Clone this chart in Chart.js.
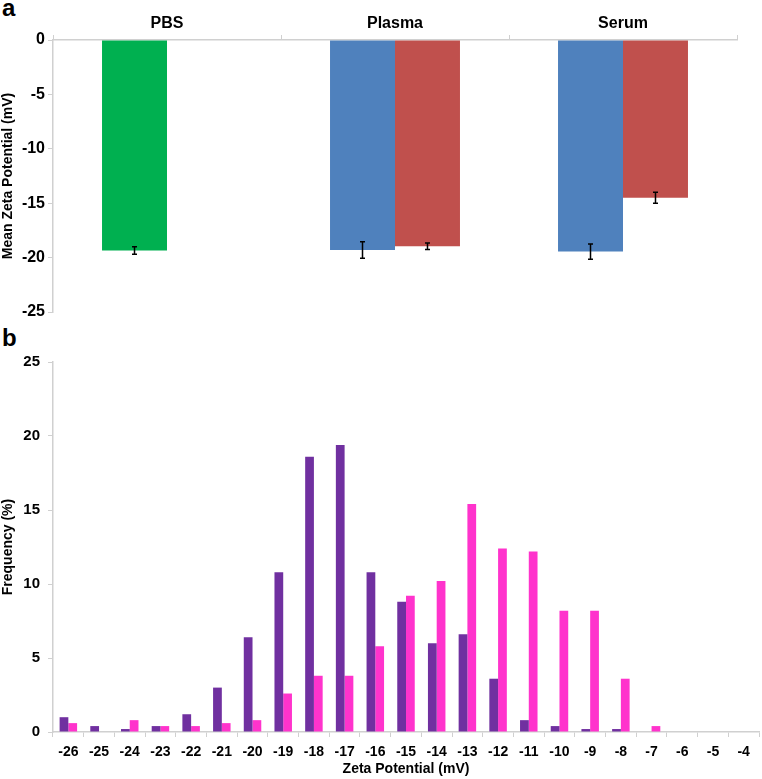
<!DOCTYPE html>
<html>
<head>
<meta charset="utf-8">
<script src="https://cdn.jsdelivr.net/npm/chart.js@4/dist/chart.umd.min.js"></script>
<style>
  body { margin: 0; background: #fff; width: 762px; height: 779px; position: relative; overflow: hidden; }
  .panel { position: absolute; left: 0; width: 762px; }
  .tag { position: absolute; left: 2px; font: bold 24px "Liberation Sans", Arial, sans-serif; color: #000; }
</style>
</head>
<body>
<div class="tag" style="top:-6px">a</div>
<div class="tag" style="top:324px">b</div>
<div class="panel" style="top:0;height:330px"><canvas id="meanChart"></canvas></div>
<div class="panel" style="top:330px;height:449px"><canvas id="freqChart"></canvas></div>
<script>
// panel a
const mediums = ["PBS", "Plasma", "Serum"];
const firstMeans = [-19.35, -19.3, -19.45];
const firstErrors = [0.35, 0.75, 0.7];
const secondMeans = [null, -18.95, -14.5];
const secondErrors = [null, 0.3, 0.5];

// panel b
const zetaBins = ["-26", "-25", "-24", "-23", "-22", "-21", "-20", "-19", "-18", "-17", "-16", "-15",
                  "-14", "-13", "-12", "-11", "-10", "-9", "-8", "-7", "-6", "-5", "-4"];
const purpleFreq = [1.0, 0.4, 0.2, 0.4, 1.2, 3.0, 6.4, 10.8, 18.6, 19.4, 10.8, 8.8,
                    6.0, 6.6, 3.6, 0.8, 0.4, 0.2, 0.2, 0, 0, 0, 0];
const pinkFreq = [0.6, 0, 0.8, 0.4, 0.4, 0.6, 0.8, 2.6, 3.8, 3.8, 5.8, 9.2,
                  10.2, 15.4, 12.4, 12.2, 8.2, 8.2, 3.6, 0.4, 0, 0, 0];

const FONT = "'Liberation Sans', Arial, sans-serif";
const AXIS = "#d0d0d0";

const errorBars = {
    id: "errorBars",
    afterDatasetsDraw(chart, args, opts) {
        const ctx = chart.ctx;
        const yScale = chart.scales.y;
        ctx.save();
        ctx.strokeStyle = "#000";
        ctx.lineWidth = 1.5;
        chart.data.datasets.forEach((ds, i) => {
            const meta = chart.getDatasetMeta(i);
            ds.errors.forEach((err, j) => {
                if (err == null || ds.data[j] == null) return;
                const x = meta.data[j].x;
                const top = yScale.getPixelForValue(ds.data[j] + err);
                const bottom = yScale.getPixelForValue(ds.data[j] - err);
                ctx.beginPath();
                ctx.moveTo(x, top); ctx.lineTo(x, bottom);
                ctx.moveTo(x - 2.5, top); ctx.lineTo(x + 2.5, top);
                ctx.moveTo(x - 2.5, bottom); ctx.lineTo(x + 2.5, bottom);
                ctx.stroke();
            });
        });
        ctx.restore();
    }
};

new Chart(document.getElementById("meanChart"), {
    type: "bar",
    data: {
        labels: mediums,
        datasets: [{
            data: firstMeans,
            errors: firstErrors,
            backgroundColor: ["#00b050", "#4f81bd", "#4f81bd"]
        }, {
            data: secondMeans,
            errors: secondErrors,
            backgroundColor: "#c0504d"
        }]
    },
    options: {
        responsive: true,
        maintainAspectRatio: false,
        animation: false,
        layout: { padding: { left: 0, top: 0, right: 25, bottom: 18 } },
        plugins: { legend: { display: false }, tooltip: { enabled: false } },
        datasets: { bar: { categoryPercentage: 0.57, barPercentage: 1.0 } },
        scales: {
            x: {
                position: "top",
                afterFit: (scale) => { scale.height = 40; },
                grid: { drawOnChartArea: false, color: AXIS, tickLength: 5, offset: true },
                border: { color: AXIS, width: 1.5 },
                ticks: { color: "#000", padding: 2, font: { family: FONT, size: 16, weight: "bold" } }
            },
            y: {
                min: -25, max: 0,
                afterFit: (scale) => { scale.width = 53; },
                grid: { drawOnChartArea: false, color: AXIS, tickLength: 5 },
                border: { color: AXIS, width: 1.5 },
                ticks: { stepSize: 5, color: "#000", padding: 3, font: { family: FONT, size: 16, weight: "bold" } },
                title: {
                    display: true, text: "Mean Zeta Potential (mV)", color: "#000",
                    padding: { top: 0, bottom: 0 },
                    font: { family: FONT, size: 14, weight: "bold" }
                }
            }
        }
    },
    plugins: [errorBars]
});

new Chart(document.getElementById("freqChart"), {
    type: "bar",
    data: {
        labels: zetaBins,
        datasets: [{
            data: purpleFreq,
            backgroundColor: "#7030a0"
        }, {
            data: pinkFreq,
            backgroundColor: "#ff33cc"
        }]
    },
    options: {
        responsive: true,
        maintainAspectRatio: false,
        animation: false,
        layout: { padding: { left: 0, top: 32, right: 3, bottom: 0 } },
        plugins: { legend: { display: false }, tooltip: { enabled: false } },
        datasets: { bar: { categoryPercentage: 0.57, barPercentage: 1.0 } },
        scales: {
            x: {
                afterFit: (scale) => { scale.height = 47; },
                grid: { drawOnChartArea: false, color: AXIS, tickLength: 5, offset: true },
                border: { color: AXIS, width: 1.5 },
                ticks: { color: "#000", padding: 7, maxRotation: 0, autoSkip: false,
                         font: { family: FONT, size: 14, weight: "bold" } },
                title: {
                    display: true, text: "Zeta Potential (mV)", color: "#000",
                    padding: { top: 0, bottom: 1 },
                    font: { family: FONT, size: 14, weight: "bold" }
                }
            },
            y: {
                min: 0, max: 25,
                afterFit: (scale) => { scale.width = 53; },
                grid: { drawOnChartArea: false, color: AXIS, tickLength: 5 },
                border: { color: AXIS, width: 1.5 },
                ticks: { stepSize: 5, color: "#000", padding: 8, font: { family: FONT, size: 15, weight: "bold" } },
                title: {
                    display: true, text: "Frequency (%)", color: "#000",
                    padding: { top: 0, bottom: 0 },
                    font: { family: FONT, size: 14, weight: "bold" }
                }
            }
        }
    }
});
</script>
</body>
</html>
